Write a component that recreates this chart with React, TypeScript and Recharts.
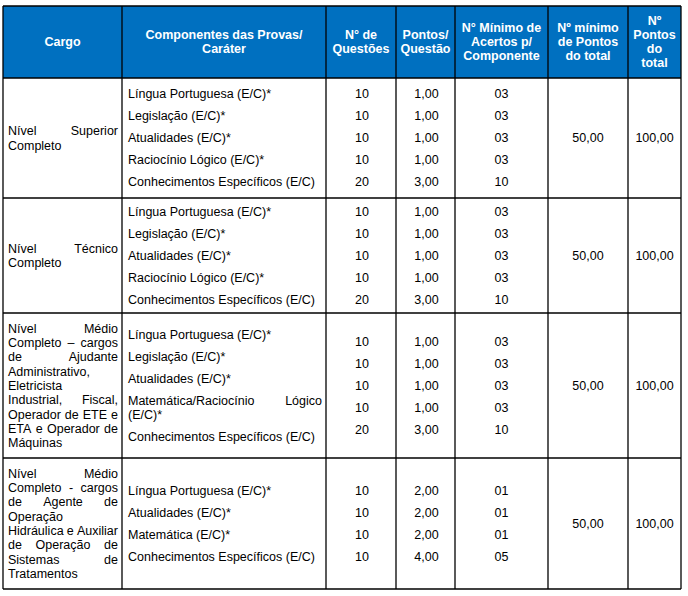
import React from "react";
import { Surface, Layer, Rectangle, Text } from "recharts";

// header lines per column
const headers: string[][] = [
  ["Cargo"],
  ["Componentes das Provas/", "Caráter"],
  ["N° de", "Questões"],
  ["Pontos/", "Questão"],
  ["N° Mínimo de", "Acertos p/", "Componente"],
  ["Nº mínimo", "de Pontos", "do total"],
  ["Nº", "Pontos", "do", "total"],
];

// cargo text, already broken into the lines of the reference
const cargos: string[][] = [
  ["Nível Superior", "Completo"],
  ["Nível Técnico", "Completo"],
  [
    "Nível Médio",
    "Completo – cargos",
    "de Ajudante",
    "Administrativo,",
    "Eletricista",
    "Industrial, Fiscal,",
    "Operador de ETE e",
    "ETA e Operador de",
    "Máquinas",
  ],
  [
    "Nível Médio",
    "Completo - cargos",
    "de Agente de",
    "Operação",
    "Hidráulica e Auxiliar",
    "de Operação de",
    "Sistemas de",
    "Tratamentos",
  ],
];

const componentes: string[][][] = [
  [
    ["Língua Portuguesa (E/C)*"],
    ["Legislação (E/C)*"],
    ["Atualidades (E/C)*"],
    ["Raciocínio Lógico (E/C)*"],
    ["Conhecimentos Específicos (E/C)"],
  ],
  [
    ["Língua Portuguesa (E/C)*"],
    ["Legislação (E/C)*"],
    ["Atualidades (E/C)*"],
    ["Raciocínio Lógico (E/C)*"],
    ["Conhecimentos Específicos (E/C)"],
  ],
  [
    ["Língua Portuguesa (E/C)*"],
    ["Legislação (E/C)*"],
    ["Atualidades (E/C)*"],
    ["Matemática/Raciocínio Lógico", "(E/C)*"],
    ["Conhecimentos Específicos (E/C)"],
  ],
  [
    ["Língua Portuguesa (E/C)*"],
    ["Atualidades (E/C)*"],
    ["Matemática (E/C)*"],
    ["Conhecimentos Específicos (E/C)"],
  ],
];

const questoes: string[][] = [
  ["10", "10", "10", "10", "20"],
  ["10", "10", "10", "10", "20"],
  ["10", "10", "10", "10", "20"],
  ["10", "10", "10", "10"],
];

const pontosQuestao: string[][] = [
  ["1,00", "1,00", "1,00", "1,00", "3,00"],
  ["1,00", "1,00", "1,00", "1,00", "3,00"],
  ["1,00", "1,00", "1,00", "1,00", "3,00"],
  ["2,00", "2,00", "2,00", "4,00"],
];

const minimoAcertos: string[][] = [
  ["03", "03", "03", "03", "10"],
  ["03", "03", "03", "03", "10"],
  ["03", "03", "03", "03", "10"],
  ["01", "01", "01", "05"],
];

const minimoPontos = ["50,00", "50,00", "50,00", "50,00"];
const totalPontos = ["100,00", "100,00", "100,00", "100,00"];

const W = 688;
const H = 596;
const COLS = [3, 122, 326, 396, 455, 548, 628, 681];
const ROWS = [6, 78, 198, 313, 458, 589];
const BLUE = "#0070C0";
const FONT = "'Liberation Sans', Arial, sans-serif";
const FS = 12.5;
const LH = 14.3;
const STEP = 22;

let ctx: CanvasRenderingContext2D | null = null;
function measure(s: string) {
  if (!ctx) {
    ctx = document.createElement("canvas").getContext("2d");
  }
  if (!ctx) return s.length * FS * 0.5;
  ctx.font = `${FS}px 'Liberation Sans'`;
  return ctx.measureText(s).width;
}

function Label({
  x,
  y,
  anchor = "start",
  bold,
  color = "#000",
  children,
}: {
  x: number;
  y: number;
  anchor?: "start" | "middle" | "end";
  bold?: boolean;
  color?: string;
  children: string;
}) {
  return (
    <Text
      x={x}
      y={y}
      textAnchor={anchor}
      verticalAnchor="middle"
      fontSize={FS}
      fontFamily={FONT}
      fontWeight={bold ? "bold" : "normal"}
      fill={color}
    >
      {children}
    </Text>
  );
}

// spreads the words of a line between left and right
function JustLine({
  text,
  left,
  right,
  y,
  justify,
}: {
  text: string;
  left: number;
  right: number;
  y: number;
  justify: boolean;
}) {
  const words = text.split(" ");
  if (!justify || words.length < 2) {
    return <Label x={left} y={y}>{text}</Label>;
  }
  const widths = words.map(measure);
  const total = widths.reduce((a, b) => a + b, 0);
  const gap = (right - left - total) / (words.length - 1);
  let x = left;
  return (
    <Layer>
      {words.map((w, i) => {
        const px = x;
        x += widths[i] + gap;
        return (
          <Label key={i} x={px} y={y}>
            {w}
          </Label>
        );
      })}
    </Layer>
  );
}

export default function App() {
  const cellLines: React.ReactNode[] = [];

  // header fill + text
  const header = (
    <Layer>
      <Rectangle
        x={COLS[0]}
        y={ROWS[0]}
        width={COLS[COLS.length - 1] - COLS[0]}
        height={ROWS[1] - ROWS[0]}
        fill={BLUE}
      />
      {headers.map((lines, c) => {
        const cx = (COLS[c] + COLS[c + 1]) / 2;
        const mid = (ROWS[0] + ROWS[1]) / 2;
        const start = mid - ((lines.length - 1) * 14) / 2;
        return lines.map((l, i) => (
          <Label key={`${c}-${i}`} x={cx} y={start + i * 14} anchor="middle" bold color="#fff">
            {l}
          </Label>
        ));
      })}
    </Layer>
  );

  const body = cargos.map((cargoLines, r) => {
    const top = ROWS[r + 1];
    const bottom = ROWS[r + 2];
    const mid = (top + bottom) / 2;

    const cStart = mid - ((cargoLines.length - 1) * LH) / 2;

    const comps = componentes[r];
    const nLines = comps.reduce((a, p) => a + p.length, 0);
    const span = (nLines - 1) * LH + (comps.length - 1) * (STEP - LH);
    let y = mid - span / 2;
    const compNodes: React.ReactNode[] = [];
    comps.forEach((par, pi) => {
      par.forEach((line, li) => {
        compNodes.push(
          <JustLine
            key={`${pi}-${li}`}
            text={line}
            left={128}
            right={322}
            y={y}
            justify={li < par.length - 1}
          />
        );
        y += LH;
      });
      y += STEP - LH;
    });

    const vals = questoes[r];
    const vStart = mid - ((vals.length - 1) * STEP) / 2;
    const colMid = (c: number) => (COLS[c] + COLS[c + 1]) / 2;

    return (
      <Layer key={r}>
        {cargoLines.map((l, i) => (
          <JustLine
            key={i}
            text={l}
            left={8}
            right={118}
            y={cStart + i * LH}
            justify={i < cargoLines.length - 1}
          />
        ))}
        {compNodes}
        {vals.map((v, i) => (
          <Layer key={`v${i}`}>
            <Label x={colMid(2) + 1} y={vStart + i * STEP} anchor="middle">
              {v}
            </Label>
            <Label x={colMid(3) + 1} y={vStart + i * STEP} anchor="middle">
              {pontosQuestao[r][i]}
            </Label>
            <Label x={colMid(4)} y={vStart + i * STEP} anchor="middle">
              {minimoAcertos[r][i]}
            </Label>
          </Layer>
        ))}
        <Label x={colMid(5)} y={mid} anchor="middle">
          {minimoPontos[r]}
        </Label>
        <Label x={colMid(6)} y={mid} anchor="middle">
          {totalPontos[r]}
        </Label>
      </Layer>
    );
  });

  // grid lines
  COLS.forEach((x, i) => {
    cellLines.push(
      <line key={`c${i}`} x1={x} x2={x} y1={ROWS[0]} y2={ROWS[ROWS.length - 1]} stroke="#000" strokeWidth={1.3} />
    );
  });
  ROWS.forEach((y, i) => {
    cellLines.push(
      <line key={`r${i}`} x1={COLS[0]} x2={COLS[COLS.length - 1]} y1={y} y2={y} stroke="#000" strokeWidth={1.3} />
    );
  });

  return (
    <div style={{ position: "absolute", left: 0, top: 0, width: W, height: H, background: "#fff" }}>
      <Surface width={W} height={H}>
        {header}
        {body}
        <Layer>{cellLines}</Layer>
      </Surface>
    </div>
  );
}
